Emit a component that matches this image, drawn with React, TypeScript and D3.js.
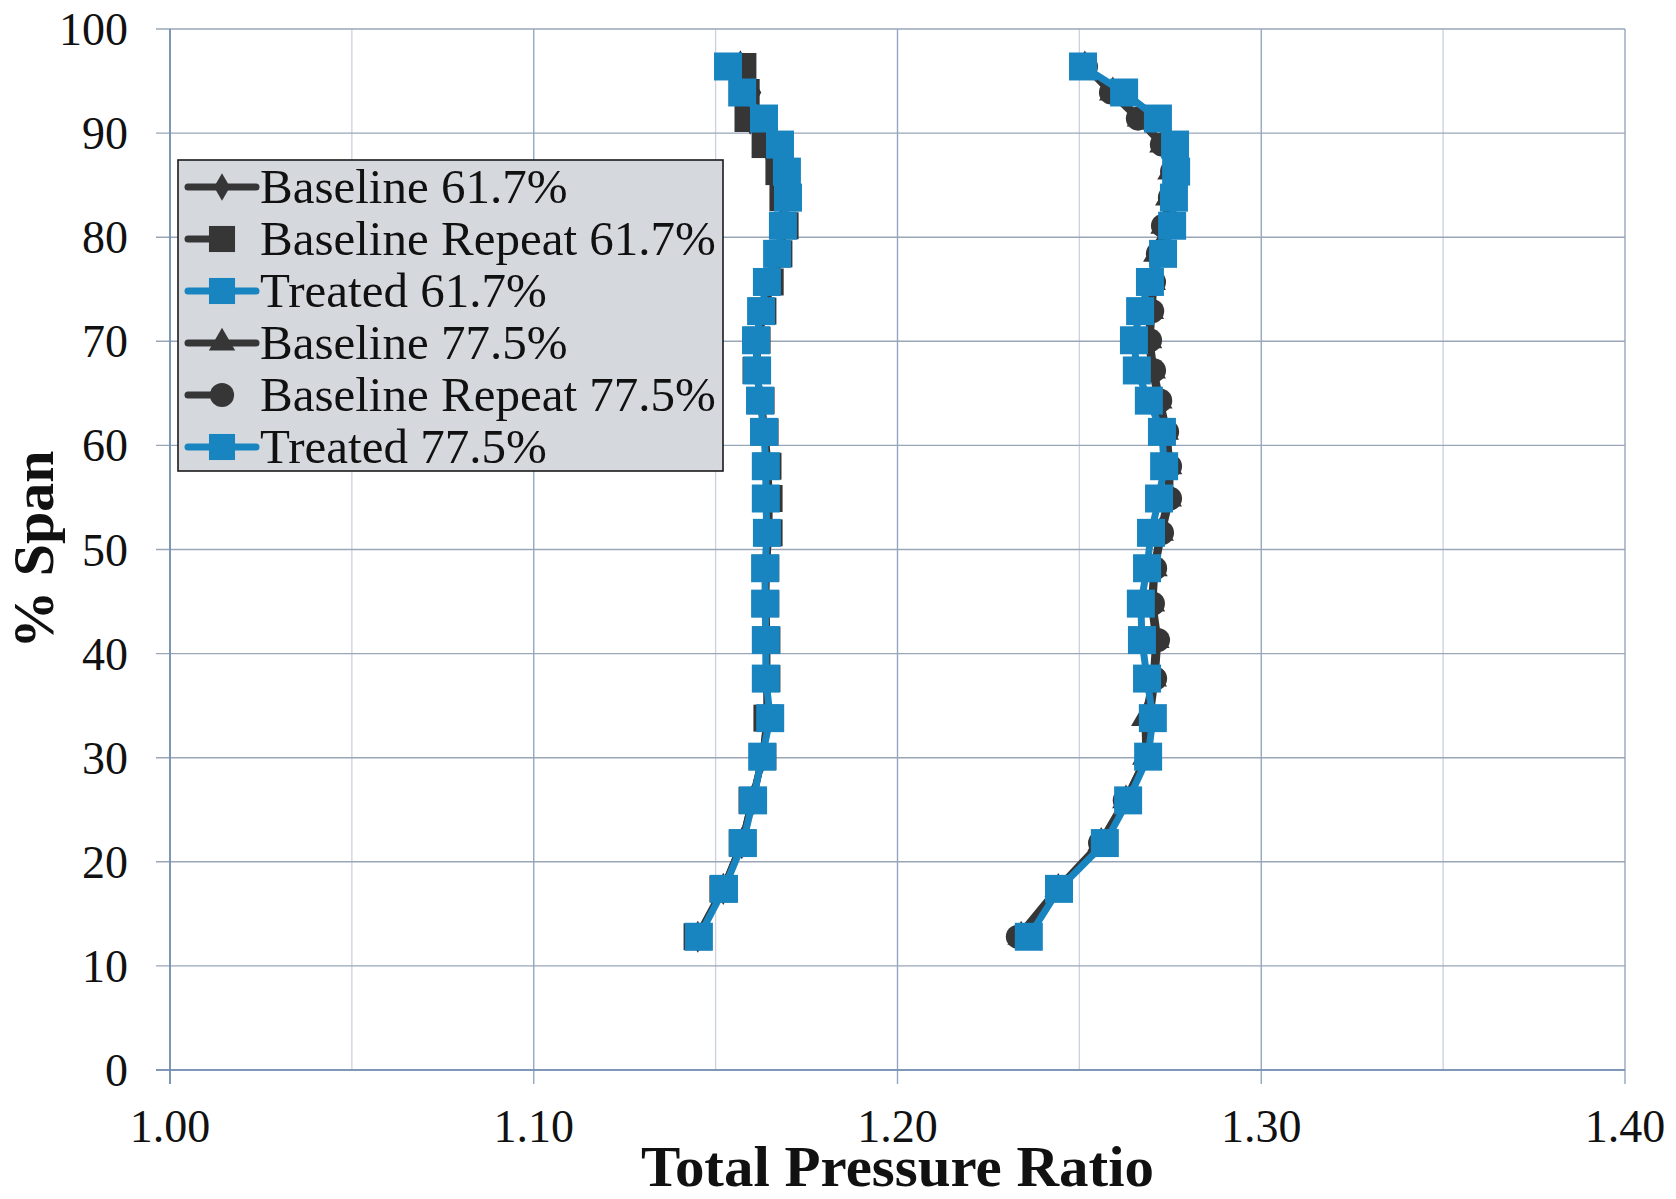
import React from "react";
import * as d3 from "d3";

// % span positions of the rake readings (shared by all series)
const spans = [
  96.4, 93.9, 91.4, 88.9, 86.3, 83.8, 81.1, 78.4, 75.7, 72.9, 70.1, 67.2, 64.3,
  61.3, 58.0, 54.9, 51.6, 48.2, 44.8, 41.3, 37.6, 33.8, 30.1, 25.9, 21.8, 17.4,
  12.8,
];

// total pressure ratio per series
const baseline617 = [
  1.1568, 1.16, 1.1595, 1.164, 1.1672, 1.1683, 1.1688, 1.1676, 1.1652, 1.1632,
  1.1616, 1.1613, 1.1623, 1.1634, 1.1642, 1.1645, 1.1645, 1.164, 1.1637, 1.164,
  1.164, 1.1643, 1.1629, 1.1601, 1.1572, 1.1521, 1.1451,
];
const repeat617 = [
  1.1575, 1.1584, 1.1589, 1.1636, 1.1674, 1.1685, 1.1691, 1.1674, 1.165, 1.163,
  1.1614, 1.1611, 1.1625, 1.1636, 1.1644, 1.1647, 1.1647, 1.1638, 1.1638,
  1.1641, 1.1641, 1.1641, 1.163, 1.16, 1.1573, 1.152, 1.1449,
];
const treated617 = [
  1.1534, 1.1573, 1.1633, 1.1677, 1.1696, 1.1699, 1.1685, 1.1669, 1.1641,
  1.1625, 1.1611, 1.1614, 1.1622, 1.1633, 1.1638, 1.1638, 1.1641, 1.1636,
  1.1636, 1.1638, 1.1638, 1.165, 1.1628, 1.1603, 1.1575, 1.1523, 1.1454,
];
const baseline775 = [
  1.2515, 1.2592, 1.2668, 1.273, 1.2752, 1.2746, 1.2733, 1.2713, 1.27, 1.2695,
  1.269, 1.27, 1.2718, 1.2736, 1.2745, 1.2744, 1.2722, 1.2705, 1.2698, 1.271,
  1.2703, 1.268, 1.2683, 1.2628, 1.256, 1.2442, 1.234,
];
const repeat775 = [
  1.2518, 1.2587, 1.2661, 1.2727, 1.2755, 1.2749, 1.273, 1.2716, 1.2705, 1.27,
  1.2694, 1.2705, 1.2722, 1.2741, 1.2749, 1.2749, 1.2727, 1.2708, 1.2702,
  1.2716, 1.2708, 1.2694, 1.2686, 1.2625, 1.2557, 1.2439, 1.2331,
];
const treated775 = [
  1.251, 1.2623, 1.2716, 1.2763, 1.2766, 1.276, 1.2755, 1.273, 1.2694, 1.2667,
  1.265, 1.2658, 1.2691, 1.2727, 1.2733, 1.2719, 1.2697, 1.2686, 1.2669,
  1.2672, 1.2686, 1.2702, 1.2689, 1.2634, 1.257, 1.2444, 1.2361,
];

const seriesNames = [
  "Baseline 61.7%",
  "Baseline Repeat 61.7%",
  "Treated 61.7%",
  "Baseline 77.5%",
  "Baseline Repeat 77.5%",
  "Treated 77.5%",
];

const xMajor = [1.0, 1.1, 1.2, 1.3, 1.4];
const xMinor = [1.05, 1.15, 1.25, 1.35];
const yTicks = [0, 10, 20, 30, 40, 50, 60, 70, 80, 90, 100];

const W = 1676;
const H = 1199;
const left = 170;
const right = 1625;
const top = 29;
const bottom = 1070;

const DARK = "#363636";
const BLUE = "#1985c0";
const FONT = "'Liberation Serif', 'Times New Roman', serif";

const series = [
  { name: seriesNames[0], values: baseline617, color: DARK, symbol: d3.symbolDiamond, size: 300, legendSize: 220, shortLine: false },
  { name: seriesNames[1], values: repeat617, color: DARK, symbol: d3.symbolSquare, size: 729, legendSize: 680, shortLine: true },
  { name: seriesNames[2], values: treated617, color: BLUE, symbol: d3.symbolSquare, size: 784, legendSize: 680, shortLine: false },
  { name: seriesNames[3], values: baseline775, color: DARK, symbol: d3.symbolTriangle, size: 330, legendSize: 300, shortLine: false },
  { name: seriesNames[4], values: repeat775, color: DARK, symbol: d3.symbolCircle, size: 460, legendSize: 460, shortLine: true },
  { name: seriesNames[5], values: treated775, color: BLUE, symbol: d3.symbolSquare, size: 784, legendSize: 680, shortLine: false },
];

export default function App() {
  const x = d3.scaleLinear().domain([1.0, 1.4]).range([left, right]);
  const y = d3.scaleLinear().domain([0, 100]).range([bottom, top]);

  const line = d3
    .line<number>()
    .x((d) => x(d))
    .y((d, i) => y(spans[i]));

  const legendX = 178;
  const legendY = 160;
  const legendW = 545;
  const legendH = 311;
  const rowGap = 52;

  return (
    <div style={{ position: "absolute", left: 0, top: 0 }}>
      <svg width={W} height={H} style={{ display: "block", background: "#fff" }}>
        {/* minor vertical grid */}
        {xMinor.map((v) => (
          <line key={"xm" + v} x1={x(v)} x2={x(v)} y1={top} y2={bottom} stroke="#c9d2de" strokeWidth={1.3} />
        ))}
        {xMajor.map((v) => (
          <line key={"xM" + v} x1={x(v)} x2={x(v)} y1={top} y2={bottom + 14} stroke="#93a7c2" strokeWidth={1.4} />
        ))}
        {yTicks.map((v) => (
          <line key={"y" + v} x1={left - 14} x2={right} y1={y(v)} y2={y(v)} stroke="#9aa6b8" strokeWidth={1.4} />
        ))}
        {/* axes */}
        <line x1={left} x2={left} y1={top} y2={bottom + 14} stroke="#6f8db0" strokeWidth={1.6} />
        <line x1={left - 14} x2={right} y1={bottom} y2={bottom} stroke="#6f8db0" strokeWidth={1.6} />

        {/* tick labels */}
        {yTicks.map((v) => (
          <text key={"yl" + v} x={128} y={y(v) + 16} textAnchor="end" fontFamily={FONT} fontSize={46} fill="#111">
            {v}
          </text>
        ))}
        {xMajor.map((v) => (
          <text key={"xl" + v} x={x(v)} y={1142} textAnchor="middle" fontFamily={FONT} fontSize={46} fill="#111">
            {v.toFixed(2)}
          </text>
        ))}

        {/* axis titles */}
        <text
          x={(left + right) / 2}
          y={1186}
          textAnchor="middle"
          fontFamily={FONT}
          fontSize={56}
          fontWeight="bold"
          fill="#111"
          textLength={513}
          lengthAdjust="spacingAndGlyphs"
        >
          Total Pressure Ratio
        </text>
        <text
          transform={`translate(53, ${(top + bottom) / 2}) rotate(-90)`}
          textAnchor="middle"
          fontFamily={FONT}
          fontSize={58}
          fontWeight="bold"
          fill="#111"
        >
          % Span
        </text>

        {/* series */}
        {series.map((s) => (
          <g key={s.name}>
            <path d={line(s.values) || ""} fill="none" stroke={s.color} strokeWidth={7} strokeLinejoin="round" />
            {s.values.map((v, i) => (
              <path
                key={i}
                transform={`translate(${x(v)},${y(spans[i])})`}
                d={d3.symbol().type(s.symbol).size(s.size)() || ""}
                fill={s.color}
              />
            ))}
          </g>
        ))}

        {/* legend */}
        <rect x={legendX} y={legendY} width={legendW} height={legendH} fill="#d5d9de" stroke="#1a1a1a" strokeWidth={1.6} />
        {series.map((s, i) => {
          const cy = 187 + i * rowGap;
          return (
            <g key={"lg" + s.name}>
              <line x1={188} x2={s.shortLine ? 215 : 256} y1={cy} y2={cy} stroke={s.color} strokeWidth={7} strokeLinecap="round" />
              <path
                transform={`translate(222,${cy})`}
                d={d3.symbol().type(s.symbol).size(s.legendSize)() || ""}
                fill={s.color}
              />
              <text x={260} y={cy + 16} fontFamily={FONT} fontSize={49} fill="#111">
                {s.name}
              </text>
            </g>
          );
        })}
      </svg>
    </div>
  );
}
